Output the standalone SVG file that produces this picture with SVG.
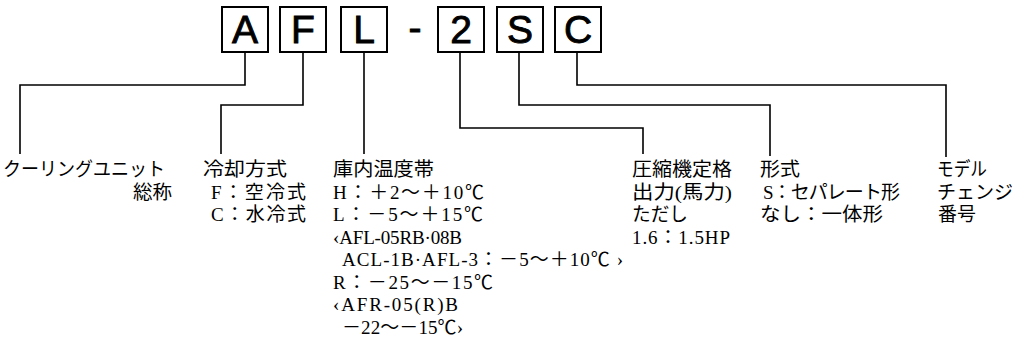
<svg xmlns="http://www.w3.org/2000/svg" width="1015" height="356" viewBox="0 0 1015 356">
<style>
.bg{fill:#ffffff}
.box rect{fill:#ffffff;stroke:#000;stroke-width:2}
.box text,.dash{font-family:"Liberation Sans",Arial,sans-serif;font-size:39px;fill:#000;stroke:#000;stroke-width:0.9;text-anchor:middle}
.conn path{fill:none;stroke:#000;stroke-width:1.6}
.lbl text{font-family:"Liberation Serif","Noto Sans CJK JP",serif;font-size:19px;fill:#000}
</style>
<rect class="bg" x="0" y="0" width="1015" height="356"/>
<g id="connectors" class="conn">
<path d="M245 52 V85 H20 V154"/>
<path d="M303 52 V105 H221 V154"/>
<path d="M364 52 V154"/>
<path d="M460 52 V128 H643 V154"/>
<path d="M519 52 V105 H770 V156"/>
<path d="M577 52 V85 H946 V157"/>
</g>
<g id="box-A" class="box"><rect x="222" y="7" width="46" height="45"/><text x="245" y="43">A</text></g>
<g id="box-F" class="box"><rect x="280" y="7" width="46" height="45"/><text x="303" y="43">F</text></g>
<g id="box-L" class="box"><rect x="341" y="7" width="46" height="45"/><text x="364" y="43">L</text></g>
<text class="dash" x="415" y="41">-</text>
<g id="box-2" class="box"><rect x="438" y="7" width="46" height="45"/><text x="461" y="43">2</text></g>
<g id="box-S" class="box"><rect x="497" y="7" width="46" height="45"/><text x="520" y="43">S</text></g>
<g id="box-C" class="box"><rect x="555" y="7" width="46" height="45"/><text x="578" y="43">C</text></g>
<g id="label-general" class="lbl">
<text x="3" y="176" textLength="162" lengthAdjust="spacingAndGlyphs">クーリングユニット</text>
<text x="133" y="198.5" textLength="39" lengthAdjust="spacingAndGlyphs">総称</text>
</g>
<g id="label-cooling" class="lbl">
<text x="203" y="176" textLength="84" lengthAdjust="spacingAndGlyphs">冷却方式</text>
<text x="211" y="198.5" textLength="95" lengthAdjust="spacing">F：空冷式</text>
<text x="211" y="221" textLength="95" lengthAdjust="spacing">C：水冷式</text>
</g>
<g id="label-temp" class="lbl">
<text x="333" y="176" textLength="101" lengthAdjust="spacingAndGlyphs">庫内温度帯</text>
<text x="333" y="198.5" textLength="151" lengthAdjust="spacing">H：＋2～＋10℃</text>
<text x="333" y="221" textLength="150" lengthAdjust="spacing">L：－5～＋15℃</text>
<text x="333" y="243.5" textLength="129" lengthAdjust="spacing">‹AFL-05RB·08B</text>
<text x="342" y="266" textLength="281" lengthAdjust="spacing">ACL-1B·AFL-3：－5～＋10℃ ›</text>
<text x="333" y="288.5" textLength="160" lengthAdjust="spacing">R：－25～－15℃</text>
<text x="333" y="311" textLength="125" lengthAdjust="spacing">‹AFR-05(R)B</text>
<text x="342" y="333.5" textLength="121" lengthAdjust="spacing">－22～－15℃›</text>
</g>
<g id="label-output" class="lbl">
<text x="632" y="176" textLength="100" lengthAdjust="spacingAndGlyphs">圧縮機定格</text>
<text x="632" y="198.5" textLength="100" lengthAdjust="spacingAndGlyphs">出力(馬力)</text>
<text x="632" y="221" textLength="56" lengthAdjust="spacingAndGlyphs">ただし</text>
<text x="632" y="243.5" textLength="98" lengthAdjust="spacing">1.6：1.5HP</text>
</g>
<g id="label-type" class="lbl">
<text x="760" y="176" textLength="40" lengthAdjust="spacingAndGlyphs">形式</text>
<text x="763" y="198.5" textLength="137" lengthAdjust="spacing">S：セパレート形</text>
<text x="760" y="221" textLength="123" lengthAdjust="spacingAndGlyphs">なし：一体形</text>
</g>
<g id="label-model" class="lbl">
<text x="937" y="176" textLength="50" lengthAdjust="spacingAndGlyphs">モデル</text>
<text x="937" y="198.5" textLength="76" lengthAdjust="spacingAndGlyphs">チェンジ</text>
<text x="938" y="221" textLength="38" lengthAdjust="spacingAndGlyphs">番号</text>
</g>
</svg>
